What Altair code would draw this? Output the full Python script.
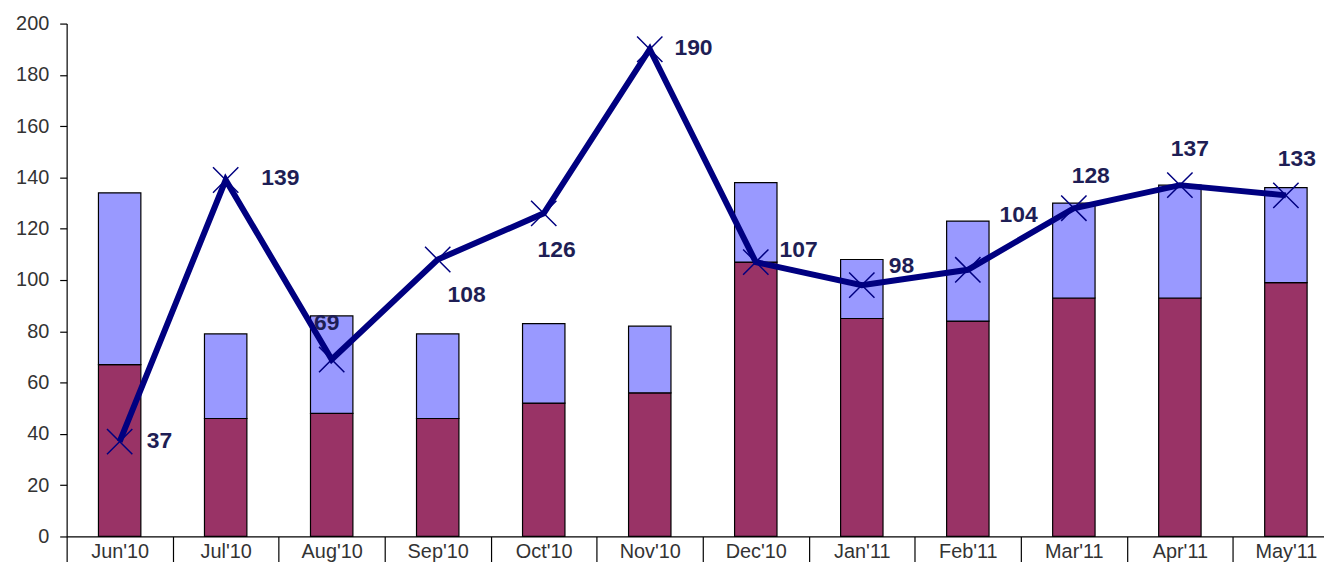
import altair as alt
import pandas as pd

months = ["Jun'10", "Jul'10", "Aug'10", "Sep'10", "Oct'10", "Nov'10",
          "Dec'10", "Jan'11", "Feb'11", "Mar'11", "Apr'11", "May'11"]
lower = [67, 46, 48, 46, 52, 56, 107, 85, 84, 93, 93, 99]
upper = [67, 33, 38, 33, 31, 26, 31, 23, 39, 37, 44, 37]
line_vals = [37, 139, 69, 108, 126, 190, 107, 98, 104, 128, 137, 133]

# label placement (pixel offsets from each line point)
label_dx = [40, 55, -5, 29, 13, 44, 43, 40, 51, 17, 10, 11]
label_dy = [-1, -2, -37, 36, 37, -1, -12, -19, -55, -32, -36, -37]

bar_rows = []
for m, lo, up in zip(months, lower, upper):
    bar_rows.append({"month": m, "series": "A", "order": 0, "value": lo})
    bar_rows.append({"month": m, "series": "B", "order": 1, "value": up})
bars_df = pd.DataFrame(bar_rows)
line_df = pd.DataFrame({"month": months, "value": line_vals})

FONT = "Liberation Sans"
NAVY = "#000080"

xscale = alt.Scale(domain=months, paddingInner=0, paddingOuter=0, range=[0, 1280])
yscale = alt.Scale(domain=[0, 200], nice=False)

x_axis = alt.Axis(title=None, labelAngle=0, tickBand="extent", tickSize=26,
                  labelPadding=-21, labelFont=FONT, labelFontSize=20,
                  labelColor="#333333", domainColor="black", tickColor="black",
                  domainWidth=1.2, tickWidth=1.2, grid=False)
y_axis = alt.Axis(title=None, values=list(range(0, 201, 20)), tickSize=7,
                  labelPadding=11, labelFont=FONT, labelFontSize=20,
                  labelColor="#333333", domainColor="black", tickColor="black",
                  domainWidth=1.2, tickWidth=1.2, grid=False)

bars = alt.Chart(bars_df).mark_bar(
    width=alt.RelativeBandSize(0.4), stroke="black", strokeWidth=1.2
).encode(
    x=alt.X("month:N", sort=months, scale=xscale, axis=x_axis),
    y=alt.Y("value:Q", stack="zero", scale=yscale, axis=y_axis),
    color=alt.Color("series:N", scale=alt.Scale(domain=["A", "B"], range=["#993366", "#9999FF"]), legend=None),
    order=alt.Order("order:Q"),
)

line = alt.Chart(line_df).mark_line(color=NAVY, strokeWidth=6).encode(
    x=alt.X("month:N", sort=months, scale=xscale),
    y=alt.Y("value:Q", scale=yscale),
)

points = alt.Chart(line_df).mark_point(
    shape="M-1,-1L1,1M1,-1L-1,1", size=650, filled=False,
    stroke=NAVY, strokeWidth=1.5, opacity=1
).encode(
    x=alt.X("month:N", sort=months, scale=xscale),
    y=alt.Y("value:Q", scale=yscale),
)

labels = []
for m, dx, dy in zip(months, label_dx, label_dy):
    labels.append(
        alt.Chart(line_df).transform_filter(alt.datum.month == m).mark_text(
            dx=dx, dy=dy, font=FONT, fontSize=23, fontWeight="bold",
            color="#1e1e55", align="center", baseline="middle"
        ).encode(
            x=alt.X("month:N", sort=months, scale=xscale),
            y=alt.Y("value:Q", scale=yscale),
            text=alt.Text("value:Q"),
        )
    )

chart = alt.layer(bars, line, points, *labels).properties(
    width=1265, height=516,
    background="white",
    autosize=alt.AutoSizeParams(type="none"),
    padding={"left": 59, "top": 14, "right": 0, "bottom": 24},
).configure_view(stroke=None)

chart.save("out.html", embed_options={"renderer": "svg", "actions": False})
